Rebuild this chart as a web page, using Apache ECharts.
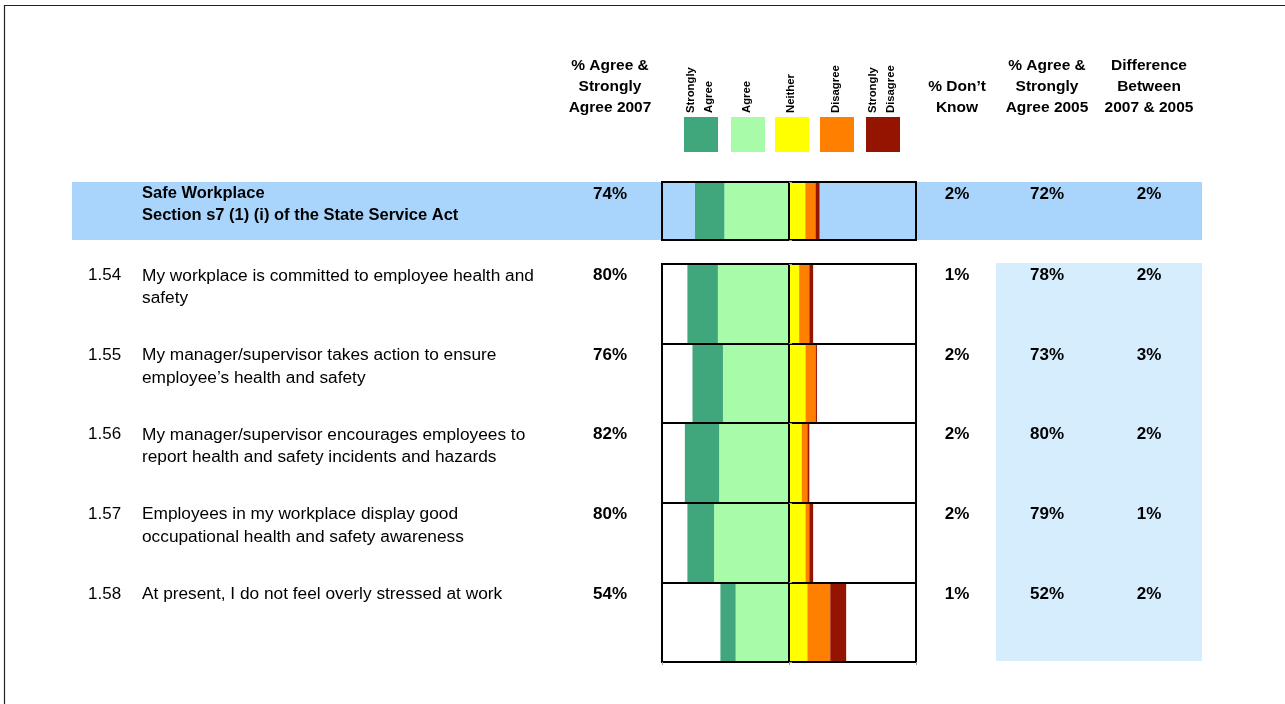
<!DOCTYPE html>
<html>
<head>
<meta charset="utf-8">
<script src="https://cdn.jsdelivr.net/npm/echarts@6/dist/echarts.min.js"></script>
<style>
  html, body { margin: 0; padding: 0; background: #fff; }
  #chart { width: 1285px; height: 704px; }
</style>
</head>
<body>
<div id="chart"></div>
<script>
// Response scale
const responseNames = ['Strongly Agree', 'Agree', 'Neither', 'Disagree', 'Strongly Disagree'];
const responseLegendLabels = ['Strongly\nAgree', 'Agree', 'Neither', 'Disagree', 'Strongly\nDisagree'];
const responseColors = ['#40a77c', '#a8fba9', '#ffff00', '#ff7f00', '#941400'];

// Column headings
const headAgree2007 = ['% Agree &', 'Strongly', 'Agree 2007'];
const headDontKnow = ['% Don\u2019t', 'Know'];
const headAgree2005 = ['% Agree &', 'Strongly', 'Agree 2005'];
const headDifference = ['Difference', 'Between', '2007 & 2005'];

// Section summary row
const sectionIds = ['S7'];
const sectionTitles = ['Safe Workplace\nSection s7 (1) (i) of the State Service Act'];
const sectionStronglyAgree = [23];
const sectionAgree = [51];
const sectionNeither = [13];
const sectionDisagree = [8];
const sectionStronglyDisagree = [3];
const sectionAgree2007 = [74];
const sectionDontKnow = [2];
const sectionAgree2005 = [72];
const sectionDifference = [2];

// Survey items
const itemCodes = ['1.54', '1.55', '1.56', '1.57', '1.58'];
const itemTexts = [
  'My workplace is committed to employee health and\nsafety',
  'My manager/supervisor takes action to ensure\nemployee\u2019s health and safety',
  'My manager/supervisor encourages employees to\nreport health and safety incidents and hazards',
  'Employees in my workplace display good\noccupational health and safety awareness',
  'At present, I do not feel overly stressed at work'
];
const itemStronglyAgree = [24, 24, 27, 21, 12];
const itemAgree = [56, 52, 55, 59, 42];
const itemNeither = [8, 13, 10, 13, 14.5];
const itemDisagree = [8, 8, 4.5, 3, 18];
const itemStronglyDisagree = [3, 1, 1.5, 3, 12.5];
const itemAgree2007 = [80, 76, 82, 80, 54];
const itemDontKnow = [1, 2, 2, 2, 1];
const itemAgree2005 = [78, 73, 80, 79, 52];
const itemDifference = [2, 3, 2, 1, 2];

const FONT = '"Liberation Sans", Arial, Helvetica, sans-serif';
const pct = v => v + '%';

// Box geometry for the two bar panels
const BOX_LEFT = 662, BOX_WIDTH = 254;
const HDR_TOP = 182, HDR_HEIGHT = 58;
const ITEM_TOP = 264, ITEM_HEIGHT = 398;

function xAxisFor(gridIndex, ticks) {
  return {
    gridIndex, type: 'value', min: -100, max: 100, interval: 100, z: 10,
    axisLabel: { show: false }, axisLine: { show: false },
    axisTick: { show: ticks, length: 3, lineStyle: { color: '#999', width: 1 } },
    splitLine: { show: true, lineStyle: { color: '#000', width: 2 } }
  };
}
function yAxisFor(gridIndex, data) {
  return {
    gridIndex, type: 'category', data, inverse: true, position: 'right', z: 10,
    axisLabel: { show: false }, axisLine: { show: false },
    axisTick: { show: true, length: 3, lineStyle: { color: '#999', width: 1 } },
    splitLine: { show: true, lineStyle: { color: '#000', width: 2 } }
  };
}

// Diverging stack: agreement grows left of zero, the rest grows right
function stackSeries(axisIndex, stackName, sa, a, n, d, sd) {
  const parts = [
    { k: 1, data: a.map(v => -v) },
    { k: 0, data: sa.map(v => -v) },
    { k: 2, data: n },
    { k: 3, data: d },
    { k: 4, data: sd }
  ];
  return parts.map(p => ({
    type: 'bar',
    name: responseNames[p.k],
    xAxisIndex: axisIndex, yAxisIndex: axisIndex,
    stack: stackName,
    barCategoryGap: '0%',
    itemStyle: { color: responseColors[p.k] },
    emphasis: { disabled: true },
    data: p.data
  }));
}

const chart = echarts.init(document.getElementById('chart'), null, { renderer: 'canvas' });

chart.setOption({
  animation: false,
  grid: [
    { left: BOX_LEFT, top: HDR_TOP, width: BOX_WIDTH, height: HDR_HEIGHT, show: true,
      borderColor: '#000', borderWidth: 2, backgroundColor: 'transparent', z: 10 },
    { left: BOX_LEFT, top: ITEM_TOP, width: BOX_WIDTH, height: ITEM_HEIGHT, show: true,
      borderColor: '#000', borderWidth: 2, backgroundColor: 'transparent', z: 10 }
  ],
  xAxis: [xAxisFor(0, false), xAxisFor(1, true)],
  yAxis: [yAxisFor(0, sectionIds), yAxisFor(1, itemCodes)],
  series: [
    ...stackSeries(0, 'section', sectionStronglyAgree, sectionAgree, sectionNeither, sectionDisagree, sectionStronglyDisagree),
    ...stackSeries(1, 'items', itemStronglyAgree, itemAgree, itemNeither, itemDisagree, itemStronglyDisagree)
  ]
});

// Row tops from the category scales
function rowTops(axisIndex, count, panelHeight) {
  const band = panelHeight / count;
  const tops = [];
  for (let i = 0; i < count; i++) {
    const c = chart.convertToPixel({ yAxisIndex: axisIndex }, i);
    tops.push(c - band / 2);
  }
  return tops;
}

const COL_AGREE07 = 610, COL_DK = 957, COL_AGREE05 = 1047, COL_DIFF = 1149;
const COL_CODE = 88, COL_TEXT = 142;

const g = [];

// Page frame
g.push({ type: 'polyline', z: 1, shape: { points: [[4.5, 704], [4.5, 5.5], [1285, 5.5]] },
  style: { stroke: '#222', lineWidth: 1.2, fill: null } });

// Section band and 2005 comparison band
g.push({ type: 'rect', z: -10, shape: { x: 72, y: HDR_TOP, width: 1130, height: HDR_HEIGHT },
  style: { fill: '#a9d5fd' } });
g.push({ type: 'rect', z: -10, shape: { x: 996, y: ITEM_TOP - 1, width: 206, height: ITEM_HEIGHT },
  style: { fill: '#d6edfd' } });

// Column headings (bottom-aligned)
function heading(lines, cx) {
  lines.slice().reverse().forEach((t, i) => {
    g.push({ type: 'text', z: 20, x: cx, y: 107.5 - i * 21,
      style: { text: t, font: 'bold 15.5px ' + FONT, fill: '#000', align: 'center', verticalAlign: 'middle' } });
  });
}
heading(headAgree2007, COL_AGREE07);
heading(headDontKnow, COL_DK);
heading(headAgree2005, COL_AGREE05);
heading(headDifference, COL_DIFF);

// Legend swatches with rotated captions
const swatchX = [684, 731, 775, 820, 866];
responseNames.forEach((name, k) => {
  g.push({ type: 'rect', z: 20, shape: { x: swatchX[k], y: 117, width: 34, height: 35 },
    style: { fill: responseColors[k] } });
  g.push({ type: 'text', z: 20, x: swatchX[k] + 16, y: 113, rotation: Math.PI / 2,
    style: { text: responseLegendLabels[k], font: 'bold 11.3px ' + FONT, fill: '#000',
      align: 'left', verticalAlign: 'middle', lineHeight: 17.5 } });
});

function rowTexts(top, code, label, labelBold, a07, dk, a05, diff) {
  if (code) {
    g.push({ type: 'text', z: 20, x: COL_CODE, y: top + 10,
      style: { text: code, font: '17px ' + FONT, fill: '#000', align: 'left', verticalAlign: 'middle' } });
  }
  g.push({ type: 'text', z: 20, x: COL_TEXT, y: top - 1,
    style: { text: label, font: (labelBold ? 'bold 16.5px ' : '17.3px ') + FONT, fill: '#000',
      align: 'left', verticalAlign: 'top', lineHeight: labelBold ? 21.5 : 22.5 } });
  [[a07, COL_AGREE07], [dk, COL_DK], [a05, COL_AGREE05], [diff, COL_DIFF]].forEach(([v, cx]) => {
    g.push({ type: 'text', z: 20, x: cx, y: top + 10,
      style: { text: pct(v), font: 'bold 17px ' + FONT, fill: '#000', align: 'center', verticalAlign: 'middle' } });
  });
}

rowTops(0, sectionIds.length, HDR_HEIGHT).forEach((top, i) => {
  rowTexts(top + 2, null, sectionTitles[i], true, sectionAgree2007[i], sectionDontKnow[i], sectionAgree2005[i], sectionDifference[i]);
});
rowTops(1, itemCodes.length, ITEM_HEIGHT).forEach((top, i) => {
  rowTexts(top + 1.5, itemCodes[i], itemTexts[i], false, itemAgree2007[i], itemDontKnow[i], itemAgree2005[i], itemDifference[i]);
});

chart.setOption({ graphic: { elements: g } });
</script>
</body>
</html>
